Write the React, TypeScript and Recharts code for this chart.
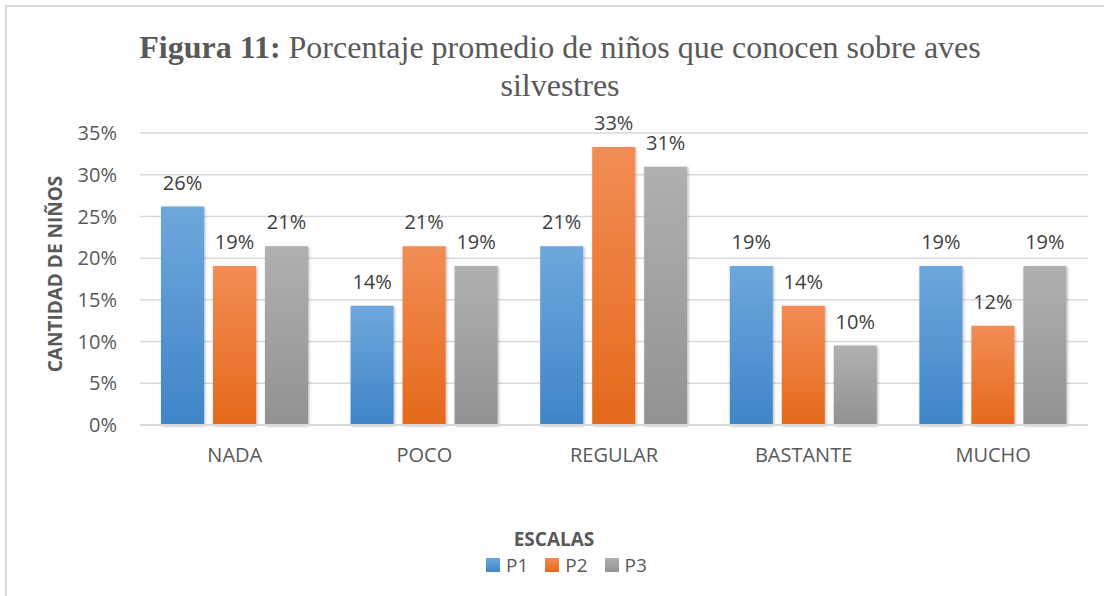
import { BarChart, Bar, XAxis, YAxis, CartesianGrid, LabelList } from 'recharts'

const categories = ['NADA', 'POCO', 'REGULAR', 'BASTANTE', 'MUCHO']
const p1 = [26.19, 14.29, 21.43, 19.05, 19.05]
const p2 = [19.05, 21.43, 33.33, 14.29, 11.9]
const p3 = [21.43, 19.05, 30.95, 9.52, 19.05]
const yTicks = [0, 5, 10, 15, 20, 25, 30, 35]

const series = [
  { key: 'P1', top: '#6ea7dd', bottom: '#3e85c8' },
  { key: 'P2', top: '#f38d55', bottom: '#e4691a' },
  { key: 'P3', top: '#b0b0b0', bottom: '#929292' },
]

const data = categories.map((name, i) => ({ name, P1: p1[i], P2: p2[i], P3: p3[i] }))

const textColor = '#595959'
const font = '"Open Sans", sans-serif'

export default function App() {
  return (
    <div style={{ position: 'absolute', left: 0, top: 0, width: 1104, height: 596, background: '#fff', overflow: 'hidden', fontFamily: font }}>
      <div style={{ position: 'absolute', left: 5, top: 5, width: 1200, height: 700, borderLeft: '2px solid #d9d9d9', borderTop: '2px solid #d9d9d9' }} />
      <div
        style={{
          position: 'absolute',
          left: 60,
          width: 1000,
          top: 28,
          textAlign: 'center',
          fontFamily: '"Liberation Serif", serif',
          fontSize: 32,
          lineHeight: '38px',
          color: textColor,
        }}
      >
        <b>Figura 11:</b> Porcentaje promedio de niños que conocen sobre aves
        <br />
        silvestres
      </div>
      <div style={{ position: 'absolute', left: 0, top: 0 }}>
        <BarChart
          width={1104}
          height={596}
          data={data}
          margin={{ top: 133, right: 16, left: 0, bottom: 131 }}
          barCategoryGap={21}
          barGap={9}
        >
          <defs>
            {series.map((s) => (
              <linearGradient key={s.key} id={'grad' + s.key} x1="0" y1="0" x2="0" y2="1">
                <stop offset="0%" stopColor={s.top} />
                <stop offset="100%" stopColor={s.bottom} />
              </linearGradient>
            ))}
            <filter id="shadow" x="-20%" y="-10%" width="140%" height="120%">
              <feDropShadow dx="1" dy="1" stdDeviation="1.5" floodColor="#000" floodOpacity="0.3" />
            </filter>
          </defs>
          <CartesianGrid vertical={false} stroke="#d9d9d9" strokeWidth={1.5} />
          <XAxis
            dataKey="name"
            height={40}
            tickLine={false}
            tickSize={0}
            tickMargin={23}
            axisLine={{ stroke: '#d9d9d9', strokeWidth: 2 }}
            tick={{ fill: textColor, fontSize: 20, fontFamily: font }}
          />
          <YAxis
            width={140}
            domain={[0, 35]}
            ticks={yTicks}
            tickFormatter={(v) => `${v}%`}
            tickLine={false}
            tickSize={0}
            tickMargin={23}
            axisLine={false}
            tick={{ fill: textColor, fontSize: 20, fontFamily: font }}
            label={{
              content: () => (
                <text
                  x={55}
                  y={274}
                  transform="rotate(-90 55 274)"
                  textAnchor="middle"
                  dominantBaseline="central"
                  fill={textColor}
                  fontSize={19}
                  fontWeight="bold"
                  fontFamily={font}
                >
                  CANTIDAD DE NIÑOS
                </text>
              ),
            }}
          />
          {series.map((s) => (
            <Bar key={s.key} dataKey={s.key} fill={`url(#grad${s.key})`} filter="url(#shadow)" isAnimationActive={false}>
              <LabelList
                dataKey={s.key}
                position="top"
                offset={17}
                formatter={(v: any) => `${Math.round(v)}%`}
                style={{ fill: '#404040', fontSize: 20, fontFamily: font, filter: 'none' }}
              />
            </Bar>
          ))}
        </BarChart>
      </div>
      <div style={{ position: 'absolute', left: 0, width: 1108, top: 527, textAlign: 'center', color: textColor, fontSize: 19, lineHeight: '24px', fontWeight: 'bold' }}>
        ESCALAS
      </div>
      <div style={{ position: 'absolute', left: 486, top: 553, display: 'flex', alignItems: 'center', color: textColor, fontSize: 19, lineHeight: '24px' }}>
        {series.map((s) => (
          <div key={s.key} style={{ display: 'flex', alignItems: 'center', marginRight: 17 }}>
            <span style={{ display: 'inline-block', width: 14, height: 14, background: `linear-gradient(${s.top}, ${s.bottom})`, marginRight: 6 }} />
            {s.key}
          </div>
        ))}
      </div>
    </div>
  )
}
